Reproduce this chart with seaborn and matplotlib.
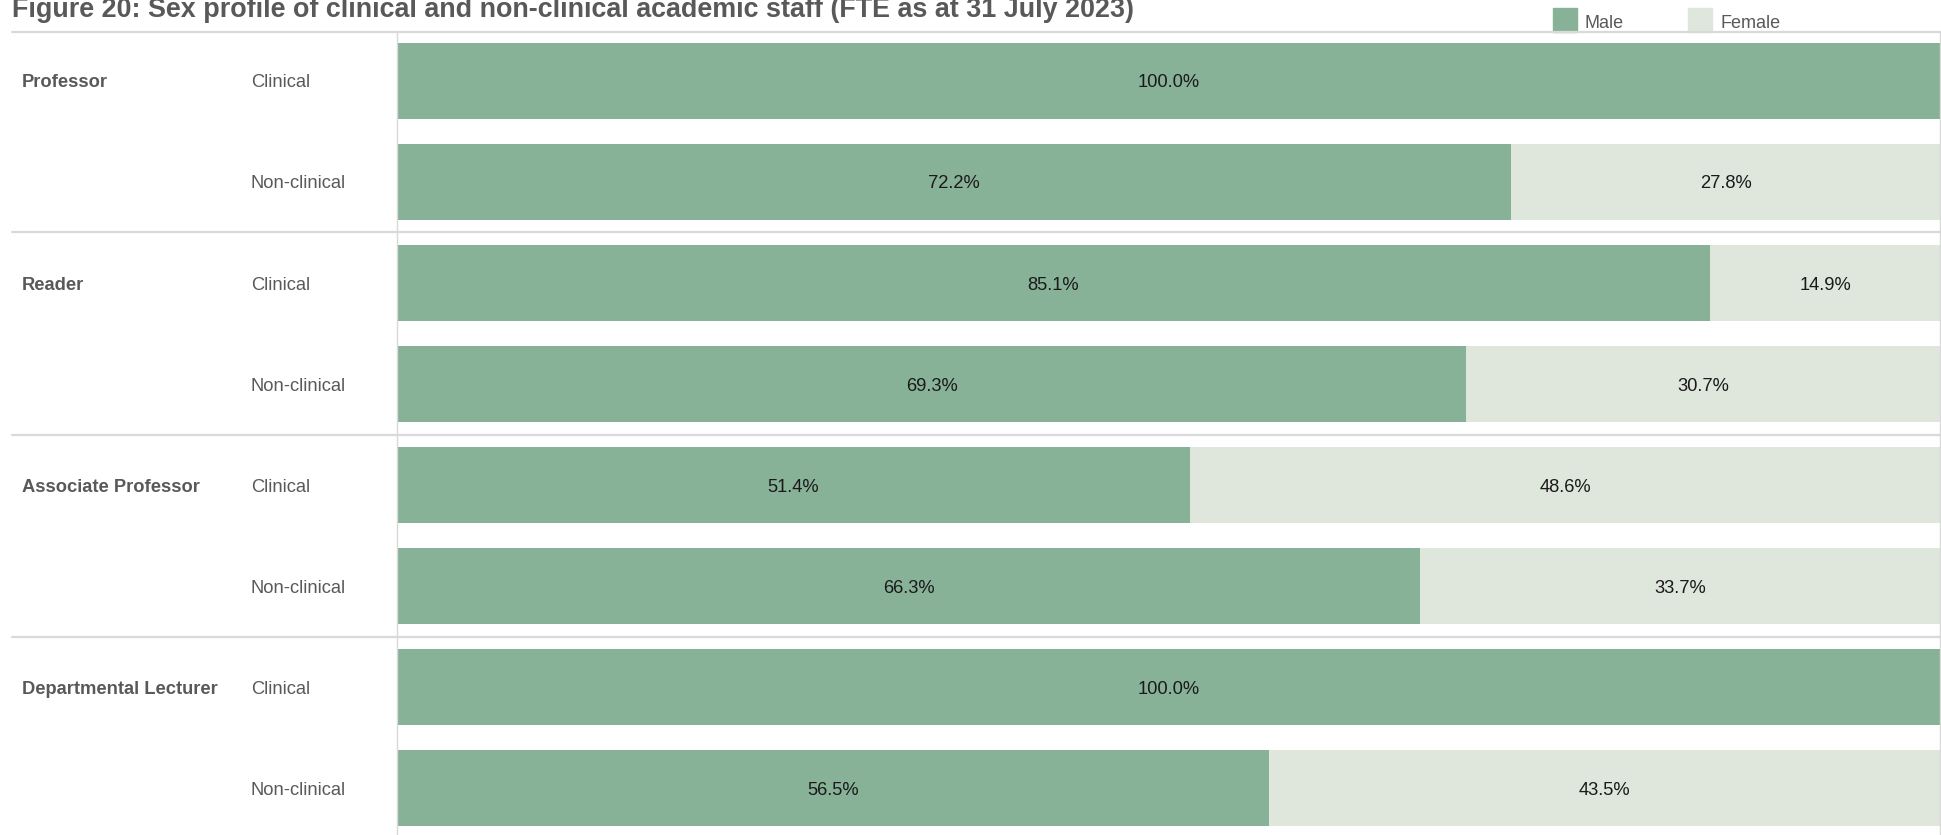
import pandas as pd
import seaborn as sns
import matplotlib.pyplot as plt
from matplotlib.transforms import blended_transform_factory
from matplotlib.patches import Rectangle

# data
ranks = ['Professor', 'Reader', 'Associate Professor', 'Departmental Lecturer']
staff_types = ['Clinical', 'Non-clinical']
male_pct = [100.0, 72.2, 85.1, 69.3, 51.4, 66.3, 100.0, 56.5]
female_pct = [0.0, 27.8, 14.9, 30.7, 48.6, 33.7, 0.0, 43.5]
title = 'Figure 20: Sex profile of clinical and non-clinical academic staff (FTE as at 31 July 2023)'

MALE = '#88b298'
FEMALE = '#dfe6db'
GREY = '#595959'
LINE = '#d9d9d9'

rows = []
for r in ranks:
    for t in staff_types:
        rows.append({'rank': r, 'type': t, 'row': r + '|' + t})
df = pd.DataFrame(rows)
df['male'] = male_pct
df['female'] = female_pct
df['total'] = df['male'] + df['female']

sns.set_style('white')
plt.rcParams['font.family'] = ['Liberation Sans', 'DejaVu Sans']

W, H = 1941, 835
fig = plt.figure(figsize=(W / 100, H / 100), dpi=100)
ax = fig.add_axes([397 / W, 0, 1543 / W, 1 - 32 / H])

sns.barplot(data=df, y='row', x='total', color=FEMALE, orient='h', width=0.752,
            saturation=1, linewidth=0, ax=ax)
sns.barplot(data=df, y='row', x='male', color=MALE, orient='h', width=0.752,
            saturation=1, linewidth=0, ax=ax)

ax.set_xlim(0, 100)
ax.set_ylim(7.465, -0.485)
ax.set_xticks([])
ax.set_yticks([])
ax.set_xlabel('')
ax.set_ylabel('')
for s in ['top', 'bottom']:
    ax.spines[s].set_visible(False)
for s in ['left', 'right']:
    ax.spines[s].set_color(LINE)
    ax.spines[s].set_linewidth(1.0)

# value labels inside the segments
for i, (m, f) in enumerate(zip(df['male'], df['female'])):
    if m > 0:
        ax.text(m / 2, i, f'{m:.1f}%', ha='center', va='center_baseline',
                fontsize=13.2, color='#1a1a1a')
    if f > 0:
        ax.text(m + f / 2, i, f'{f:.1f}%', ha='center', va='center_baseline',
                fontsize=13.2, color='#1a1a1a')

# row labels on the left
tr = blended_transform_factory(fig.transFigure, ax.transData)
for i, row in df.iterrows():
    if row['type'] == staff_types[0]:
        ax.text(22 / W, i, row['rank'], transform=tr, ha='left', va='center_baseline',
                fontsize=13.2, fontweight='bold', color=GREY)
    ax.text(251 / W, i, row['type'], transform=tr, ha='left', va='center_baseline',
            fontsize=13.2, color=GREY)

# separators between rank groups
for y in [1.5, 3.5, 5.5]:
    ax.plot([12 / W, 1], [y, y], transform=tr, color=LINE, lw=1.6, clip_on=False)
fig.add_artist(plt.Line2D([12 / W, 1], [1 - 32 / H, 1 - 32 / H], color=LINE, lw=1.6))

# title (runs off the top edge as in the original)
fig.text(12 / W, 1 - 17 / H, title, ha='left', va='baseline', fontsize=19.4,
         fontweight='bold', color=GREY)

# legend
for x0, label, col in [(1553, 'Male', MALE), (1688, 'Female', FEMALE)]:
    fig.add_artist(Rectangle((x0 / W, 1 - 32 / H), 24 / W, 24 / H, color=col,
                             transform=fig.transFigure))
    fig.text((x0 + 32) / W, 1 - 21 / H, label, ha='left', va='center_baseline',
             fontsize=13, color=GREY)

fig.savefig('out.png', dpi=100)
